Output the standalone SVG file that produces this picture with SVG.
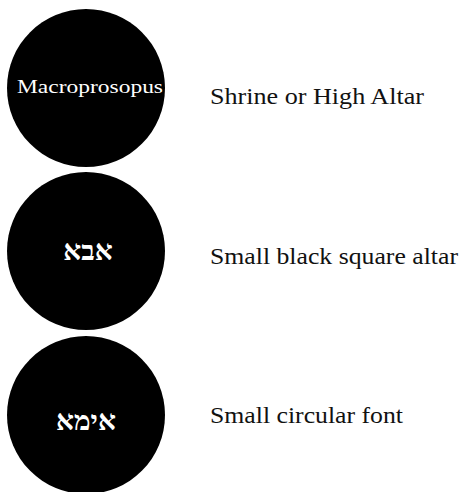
<svg xmlns="http://www.w3.org/2000/svg" width="463" height="492" viewBox="0 0 463 492">
<style>
.c{fill:#000}
.lbl{font-family:"Liberation Serif","DejaVu Serif",serif;font-size:23px;fill:#111}
.in{font-family:"Liberation Serif","DejaVu Serif",serif;fill:#fff}
.he{font-family:"DejaVu Serif","Liberation Serif",serif;fill:#fff;text-anchor:middle;font-weight:bold;font-size:28px}
</style>
<rect width="463" height="492" fill="#fff"/>
<g id="node1">
<circle class="c" cx="86" cy="88" r="79"/>
<text class="in" x="17" y="93" font-size="19" textLength="146" lengthAdjust="spacingAndGlyphs">Macroprosopus</text>
</g>
<g id="node2">
<circle class="c" cx="86" cy="251" r="79"/>
<text class="he" x="88" y="260">אבא</text>
</g>
<g id="node3">
<circle class="c" cx="86" cy="415" r="79"/>
<text class="he" x="86" y="430">אימא</text>
</g>
<g id="labels">
<text class="lbl" x="210" y="104" textLength="214" lengthAdjust="spacingAndGlyphs">Shrine or High Altar</text>
<text class="lbl" x="210" y="264" textLength="248" lengthAdjust="spacingAndGlyphs">Small black square altar</text>
<text class="lbl" x="210" y="423" textLength="193" lengthAdjust="spacingAndGlyphs">Small circular font</text>
</g>
<g id="connectors"/>
</svg>
